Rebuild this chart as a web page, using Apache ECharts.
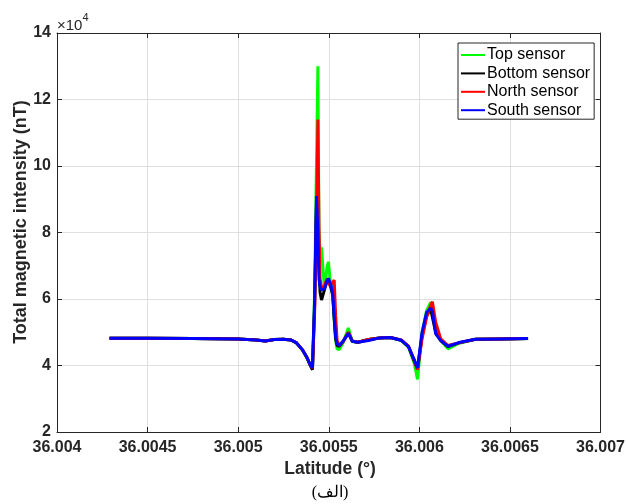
<!DOCTYPE html>
<html>
<head>
<meta charset="utf-8">
<script src="https://cdn.jsdelivr.net/npm/echarts@6/dist/echarts.min.js"></script>
<style>html,body{margin:0;padding:0;background:#fff}#c{width:628px;height:504px}</style>
</head>
<body>
<div id="c"></div>
<script>
// Latitude (degrees)
var lat = [36.004290,36.004500,36.004750,36.005000,36.005100,36.005150,36.005200,36.005250,36.005290,36.005320,
36.005355,36.005380,36.005398,36.005410,36.005422,36.005432,36.005440,36.005446,36.005452,36.005460,
36.005467,36.005475,36.005483,36.005490,36.005498,36.005506,36.005514,36.005522,36.005530,36.005538,
36.005546,36.005558,36.005580,36.005608,36.005630,36.005660,36.005720,36.005780,36.005840,36.005900,
36.005940,36.005970,36.005990,36.006015,36.006040,36.006062,36.006072,36.006090,36.006118,36.006158,
36.006218,36.006310,36.006450,36.006600];

var topSensor = [48200,48200,48150,48000,47700,47400,47800,47900,47700,46800,
44600,42200,40000,39000,62000,100000,130000,80000,74000,75500,
70000,64000,66000,69500,71200,66500,63500,61000,54000,47500,
45000,44800,47000,51300,47200,46900,47800,48300,48400,47500,
45500,41000,35800,50000,56500,59000,59300,50500,47500,45000,
46700,47900,48000,48100];

var bottomSensor = [48200,48200,48150,48000,47700,47400,47800,47900,47700,46900,
44700,42300,40000,38700,58000,88000,85000,70000,62000,59700,
61000,62500,64000,65500,66000,64500,63000,61000,54000,48000,
46000,45800,47300,49800,47300,47000,47800,48300,48400,47600,
45700,41500,39000,49000,55000,57000,57500,50000,47500,45700,
46800,47900,48000,48100];

var northSensor = [48200,48200,48150,48000,47700,47400,47800,47900,47700,46900,
44700,42400,40100,39200,56000,85000,114000,82000,66000,63500,
63000,63500,65000,66000,66500,64000,63500,65000,65700,55000,
47500,46000,47200,50000,47400,47000,47800,48300,48400,47700,
45800,41800,38800,48000,54500,58000,59200,53000,48000,46000,
46800,47900,48000,48100];

var southSensor = [48200,48200,48150,48000,47700,47400,47800,47900,47700,46900,
44700,42400,40200,39300,60000,91000,80000,66000,63700,62700,
62800,63100,64200,65300,66200,65000,63800,61500,55000,48700,
46500,46100,47400,49700,47300,47000,47500,48300,48400,47600,
45700,42000,39300,50000,56000,57200,56500,49500,47500,45800,
46900,47900,48000,48100];

var seriesNames = ['Top sensor','Bottom sensor','North sensor','South sensor'];
var seriesValues = [topSensor, bottomSensor, northSensor, southSensor];
var seriesColors = ['#00ff00','#000000','#ff0000','#0000ff'];

function pairs(v){ return lat.map(function(x,i){ return [x, v[i]]; }); }

var chart = echarts.init(document.getElementById('c'), null, {renderer:'canvas'});
var font = 'Liberation Sans, Arial, Helvetica, sans-serif';
var axisCommon = {
  axisLine:{show:true, lineStyle:{color:'#262626', width:1}},
  axisTick:{show:true, inside:true, length:5, lineStyle:{color:'#262626'}},
  splitLine:{show:false},
  axisLabel:{show:false}
};
var option = {
  animation:false,
  backgroundColor:'#fff',
  grid:{left:57, right:26, top:33, bottom:72, containLabel:false},
  graphic:[
    {type:'text', left:57, top:12, style:{
      text:'{a|×10}{b|4}', rich:{
        a:{fontSize:15, fontFamily:font, fill:'#262626', padding:[6,0,0,0]},
        b:{fontSize:11, fontFamily:font, fill:'#262626', verticalAlign:'top'}
      }}},
    {type:'text', x:21, y:222, rotation:Math.PI/2, style:{
      text:'Total magnetic intensity (nT)', fontSize:18, fontWeight:'bold', fontFamily:font,
      fill:'#262626', align:'center', verticalAlign:'middle'}},
    {type:'text', x:330, y:469, style:{
      text:'Latitude (°)', fontSize:17.5, fontWeight:'bold', fontFamily:font,
      fill:'#262626', align:'center', verticalAlign:'middle'}},
    {type:'text', x:330, y:493, style:{text:'(الف)', fontSize:16, fontFamily:'Liberation Serif, DejaVu Serif, serif', fill:'#000', align:'center', verticalAlign:'middle'}}
  ],
  legend:{
    orient:'vertical', left:458, top:43,
    data:seriesNames,
    icon:'rect', itemWidth:24, itemHeight:2, itemGap:2.4,
    padding:[4,4,1,3],
    borderColor:'#262626', borderWidth:1, backgroundColor:'#fff',
    textStyle:{fontSize:16, lineHeight:15, fontFamily:font, color:'#000', padding:[0,0,0,-3]}
  },
  xAxis:[{
    type:'value', min:36.004, max:36.007, interval:0.0005,
    axisLine:{show:true, lineStyle:{color:'#262626'}},
    axisTick:{show:true, inside:true, length:5, lineStyle:{color:'#262626'}},
    axisLabel:{fontSize:16, fontWeight:'bold', fontFamily:font, color:'#262626', margin:8,
      formatter:function(v){ return String(parseFloat(v.toFixed(4))); }},
    splitLine:{show:true, lineStyle:{color:'#dfdfdf', width:1}}
  },{
    type:'value', position:'top', min:36.004, max:36.007, interval:0.0005
  }],
  yAxis:[{
    type:'value', min:20000, max:140000, interval:20000,
    axisLine:{show:true, lineStyle:{color:'#262626'}},
    axisTick:{show:true, inside:true, length:5, lineStyle:{color:'#262626'}},
    axisLabel:{fontSize:16, fontWeight:'bold', fontFamily:font, color:'#262626', margin:6,
      formatter:function(v){ return String(Math.round(v/10000)); }},
    splitLine:{show:true, lineStyle:{color:'#dfdfdf', width:1}}
  },{
    type:'value', position:'right', min:20000, max:140000, interval:20000
  }],
  series: seriesNames.map(function(n,i){
    return {name:n, type:'line', data:pairs(seriesValues[i]), showSymbol:false, symbol:'none',
      lineStyle:{color:seriesColors[i], width:3}, itemStyle:{color:seriesColors[i]}, z:2+i};
  })
};
Object.assign(option.xAxis[1], axisCommon);
Object.assign(option.yAxis[1], axisCommon);
chart.setOption(option);
</script>
</body>
</html>
